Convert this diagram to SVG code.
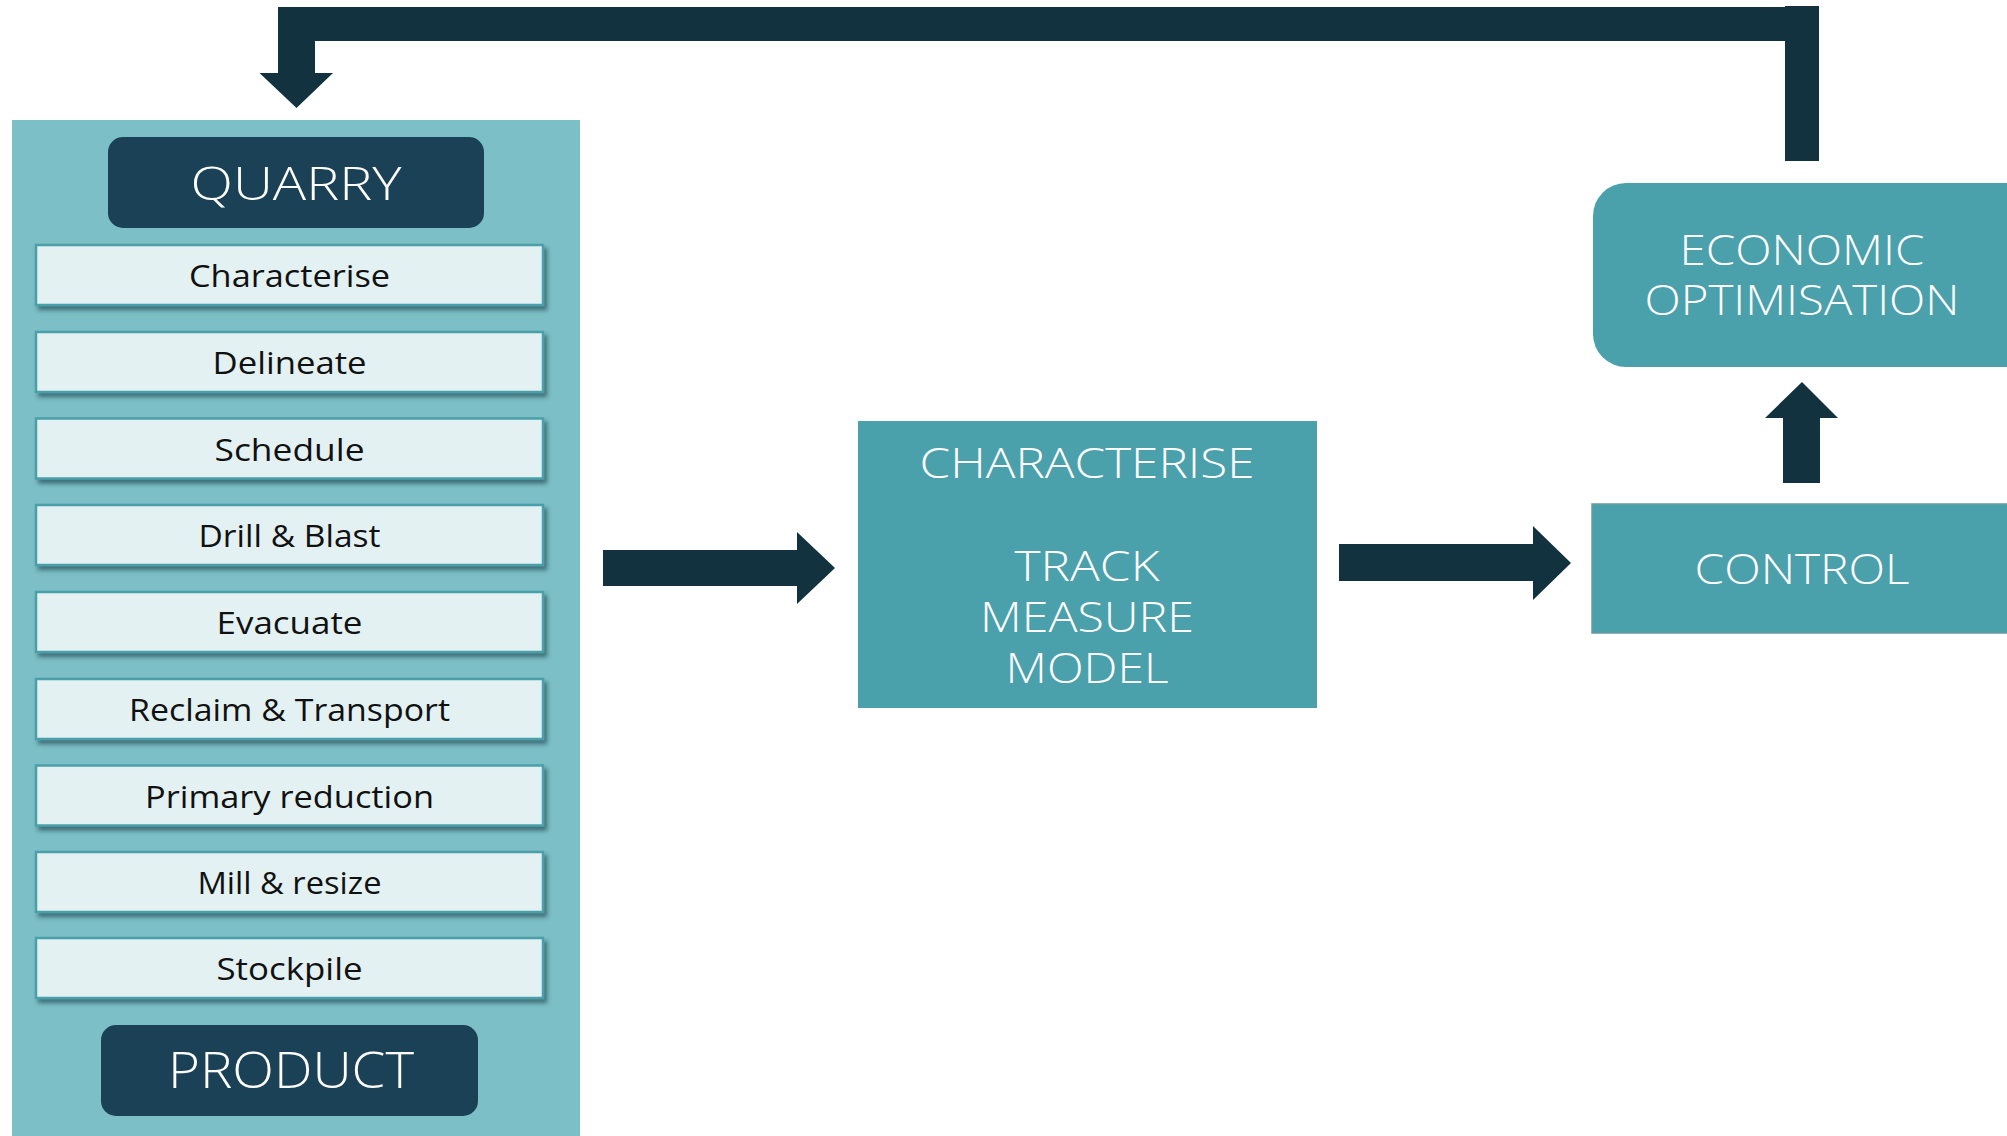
<svg xmlns="http://www.w3.org/2000/svg" width="2007" height="1136" viewBox="0 0 2007 1136">
<defs>
<filter id="sh" x="-5%" y="-20%" width="115%" height="160%">
<feDropShadow dx="3" dy="4" stdDeviation="2" flood-color="#1d4650" flood-opacity="0.65"/>
</filter>
<style>
.item rect{fill:#e3f1f3;stroke:#4a9faa;stroke-width:2.5;filter:url(#sh)}
.item text{font-family:"Open Sans","Liberation Sans",sans-serif;font-size:31px;fill:#111;text-anchor:middle}
.dark{fill:#1a4155}
.teal{fill:#4aa0ab}
.wt{font-family:"Open Sans","Liberation Sans",sans-serif;font-weight:300;fill:#fff;text-anchor:middle}
.conn{fill:#12323f}
</style>
</defs>
<rect width="2007" height="1136" fill="#fff"/>
<g id="panel">
<rect x="12" y="120" width="568" height="1016" fill="#7dbfc6"/>
</g>
<g id="quarry">
<rect class="dark" x="108" y="137" width="376" height="91" rx="15"/>
<text class="wt" x="296" y="200" font-size="46" textLength="211" lengthAdjust="spacingAndGlyphs">QUARRY</text>
</g>
<g id="item-characterise" class="item"><rect x="36" y="245" width="507" height="60"/><text x="289.5" y="287" textLength="201" lengthAdjust="spacingAndGlyphs">Characterise</text></g>
<g id="item-delineate" class="item"><rect x="36" y="332" width="507" height="60"/><text x="289.5" y="374" textLength="154" lengthAdjust="spacingAndGlyphs">Delineate</text></g>
<g id="item-schedule" class="item"><rect x="36" y="418.5" width="507" height="60"/><text x="289.5" y="460.5" textLength="150" lengthAdjust="spacingAndGlyphs">Schedule</text></g>
<g id="item-drill" class="item"><rect x="36" y="505" width="507" height="60"/><text x="289.5" y="547" textLength="182" lengthAdjust="spacingAndGlyphs">Drill &amp; Blast</text></g>
<g id="item-evacuate" class="item"><rect x="36" y="592" width="507" height="60"/><text x="289.5" y="634" textLength="146" lengthAdjust="spacingAndGlyphs">Evacuate</text></g>
<g id="item-reclaim" class="item"><rect x="36" y="679" width="507" height="60"/><text x="289.5" y="721" textLength="321" lengthAdjust="spacingAndGlyphs">Reclaim &amp; Transport</text></g>
<g id="item-primary" class="item"><rect x="36" y="765.5" width="507" height="60"/><text x="289.5" y="807.5" textLength="289" lengthAdjust="spacingAndGlyphs">Primary reduction</text></g>
<g id="item-mill" class="item"><rect x="36" y="852" width="507" height="60"/><text x="289.5" y="894" textLength="184" lengthAdjust="spacingAndGlyphs">Mill &amp; resize</text></g>
<g id="item-stockpile" class="item"><rect x="36" y="938" width="507" height="60"/><text x="289.5" y="980" textLength="146" lengthAdjust="spacingAndGlyphs">Stockpile</text></g>
<g id="product">
<rect class="dark" x="101" y="1025" width="377" height="91" rx="15"/>
<text class="wt" x="291" y="1088" font-size="49" textLength="246" lengthAdjust="spacingAndGlyphs">PRODUCT</text>
</g>
<g id="characterise">
<rect class="teal" x="858" y="421" width="459" height="287"/>
<text class="wt" x="1087" y="478" font-size="43" textLength="335" lengthAdjust="spacingAndGlyphs">CHARACTERISE</text>
<text class="wt" x="1087" y="581" font-size="43" textLength="145" lengthAdjust="spacingAndGlyphs">TRACK</text>
<text class="wt" x="1087" y="632" font-size="43" textLength="214" lengthAdjust="spacingAndGlyphs">MEASURE</text>
<text class="wt" x="1087" y="683" font-size="43" textLength="163" lengthAdjust="spacingAndGlyphs">MODEL</text>
</g>
<g id="control">
<rect class="teal" x="1592" y="504" width="420" height="129" stroke="#6a9aa0" stroke-width="1.5"/>
<text class="wt" x="1802" y="584" font-size="43" textLength="215" lengthAdjust="spacingAndGlyphs">CONTROL</text>
</g>
<g id="economic">
<rect class="teal" x="1593" y="183" width="450" height="184" rx="33"/>
<text class="wt" x="1802" y="265" font-size="42" textLength="245" lengthAdjust="spacingAndGlyphs">ECONOMIC</text>
<text class="wt" x="1802" y="315" font-size="42" textLength="315" lengthAdjust="spacingAndGlyphs">OPTIMISATION</text>
</g>
<g id="connectors">
<polygon class="conn" points="603,550 797,550 797,532 835,568 797,604 797,586 603,586"/>
<polygon class="conn" points="1339,544 1533,544 1533,526 1571,563 1533,600 1533,581 1339,581"/>
<polygon class="conn" points="1783,483 1820,483 1820,418 1838,418 1802,382 1765,418 1783,418"/>
<polygon class="conn" points="1785,161 1819,161 1819,6 1785,6 1785,7 278,7 278,73 259.5,73 296.5,108 333,73 315,73 315,41 1785,41"/>
</g>
</svg>
